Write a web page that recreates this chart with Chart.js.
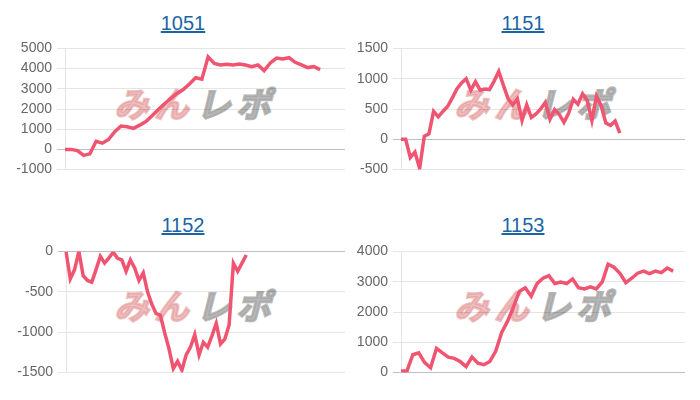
<!DOCTYPE html>
<html>
<head>
<meta charset="utf-8">
<script src="https://cdn.jsdelivr.net/npm/chart.js@4/dist/chart.umd.min.js"></script>
<style>
  html, body { margin: 0; padding: 0; background: #fff; }
  #page { position: relative; width: 700px; height: 400px; overflow: hidden; }
  .title { position: absolute; width: 120px; text-align: center; font-family: "Liberation Sans", Arial, sans-serif; font-size: 20px; line-height: 24px; }
  .title a { color: #1a65a6; text-decoration: underline; }
  .mark { position: absolute; font-family: "Noto Sans CJK JP", sans-serif; font-weight: 700; font-size: 34px; line-height: 34px; letter-spacing: 6px; white-space: nowrap; transform: skewX(-14deg); }
  .mark .a { color: rgba(228, 150, 150, 0.6); -webkit-text-stroke: 2.5px rgba(228, 150, 150, 0.6); }
  .mark .b { color: rgba(165, 165, 165, 0.8); -webkit-text-stroke: 2.5px rgba(165, 165, 165, 0.8); margin-left: 2px; }
  canvas { position: absolute; }
</style>
</head>
<body>
<div id="page">
  <div class="mark" style="left:118px;top:86px"><span class="a">みん</span><span class="b">レポ</span></div>
  <div class="mark" style="left:458px;top:86px"><span class="a">みん</span><span class="b">レポ</span></div>
  <div class="mark" style="left:118px;top:288px"><span class="a">みん</span><span class="b">レポ</span></div>
  <div class="mark" style="left:458px;top:288px"><span class="a">みん</span><span class="b">レポ</span></div>

  <div class="title" style="left:123px;top:11px"><a href="#">1051</a></div>
  <div class="title" style="left:463px;top:11px"><a href="#">1151</a></div>
  <div class="title" style="left:123px;top:213px"><a href="#">1152</a></div>
  <div class="title" style="left:463px;top:213px"><a href="#">1153</a></div>

  <canvas id="c1051" width="350" height="148" style="left:0;top:35px"></canvas>
  <canvas id="c1151" width="350" height="148" style="left:350px;top:35px"></canvas>
  <canvas id="c1152" width="350" height="148" style="left:0;top:238px"></canvas>
  <canvas id="c1153" width="350" height="148" style="left:350px;top:238px"></canvas>
</div>
<script>
// slot counts on the (hidden) x axis of each chart
const slots1051 = 46;
const slots1151 = 62;
const slots1152 = 66;
const slots1153 = 49;

const data1051 = [0, 0, -60, -300, -220, 400, 310, 490, 880, 1160, 1120, 1040, 1200, 1380, 1670, 1980,
  2260, 2530, 2770, 2960, 3240, 3550, 3475, 4580, 4260, 4180, 4210, 4180, 4230, 4180, 4100, 4180,
  3900, 4280, 4520, 4480, 4540, 4310, 4180, 4050, 4100, 3950];

const data1151 = [0, 0, -300, -210, -480, 50, 90, 460, 370, 460, 540, 680, 830, 930, 1000, 810,
  950, 810, 830, 820, 960, 1120, 890, 670, 570, 670, 310, 570, 360, 420, 500, 610,
  330, 490, 410, 280, 430, 660, 580, 750, 640, 310, 710, 550, 270, 230, 300, 100];

const data1152 = [0, -340, -225, 0, -300, -360, -380, -225, -60, -145, -80, -10, -85, -105, -245, -105,
  -205, -360, -265, -500, -655, -770, -790, -1010, -1205, -1450, -1360, -1470, -1280, -1185, -1030, -1280,
  -1125, -1185, -1045, -890, -1145, -1085, -910, -145, -245, -145, -45];

const data1153 = [50, 50, 590, 650, 330, 160, 800, 650, 510, 470, 365, 200, 510, 310, 260, 365,
  700, 1320, 1690, 2160, 2680, 2800, 2520, 2940, 3115, 3200, 2940, 2990, 2940, 3090, 2800, 2760,
  2830, 2760, 2990, 3580, 3480, 3280, 2970, 3115, 3280, 3350, 3270, 3350, 3300, 3450, 3350];

const lineColor = 'rgb(239, 84, 112)';

function drawChart(id, slots, values, yMin, yMax, yStep, axisWidth, rightPad) {
  const labels = Array.from({ length: slots }, (_, i) => String(i + 1));
  new Chart(document.getElementById(id), {
    type: 'line',
    data: {
      labels: labels,
      datasets: [{
        data: values,
        borderColor: lineColor,
        backgroundColor: lineColor,
        borderWidth: 3.5,
        pointRadius: 0,
        tension: 0,
        fill: false
      }]
    },
    options: {
      responsive: false,
      animation: false,
      layout: { padding: { top: 10, bottom: 10, left: 0, right: rightPad } },
      plugins: { legend: { display: false }, tooltip: { enabled: false } },
      scales: {
        x: { display: false },
        y: {
          min: yMin,
          max: yMax,
          afterFit: (scale) => { scale.width = axisWidth; },
          ticks: {
            stepSize: yStep,
            padding: 5,
            color: '#666',
            font: { family: '"Liberation Sans", Arial, sans-serif', size: 14 },
            callback: (v) => String(v)
          },
          grid: {
            color: (ctx) => (ctx.tick && ctx.tick.value === 0) ? 'rgba(0,0,0,0.25)' : 'rgba(0,0,0,0.1)'
          }
        }
      }
    }
  });
}

drawChart('c1051', slots1051, data1051, -1000, 5000, 1000, 65, 5);
drawChart('c1151', slots1151, data1151, -500, 1500, 500, 51, 15);
drawChart('c1152', slots1152, data1152, -1500, 0, 500, 66, 5);
drawChart('c1153', slots1153, data1153, 0, 4000, 1000, 51, 15);
</script>
</body>
</html>
